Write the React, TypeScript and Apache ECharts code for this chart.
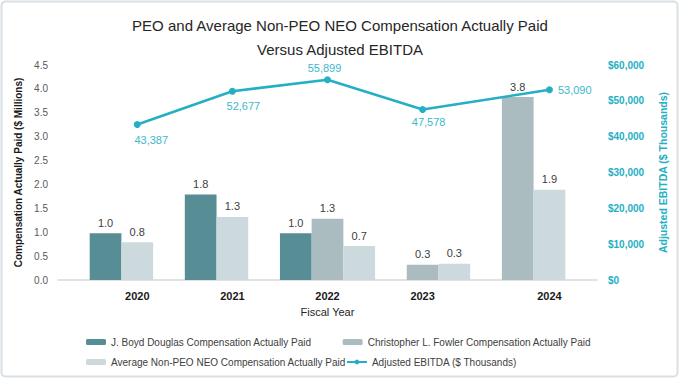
import React, { useEffect, useRef } from "react";
import * as echarts from "echarts";

// ---- data ----
const years = ["2020", "2021", "2022", "2023", "2024"];
const douglasPaid = [0.98, 1.79, 0.98, null, null];
const fowlerPaid = [null, null, 1.28, 0.32, 3.83];
const avgNeoPaid = [0.79, 1.32, 0.71, 0.34, 1.89];
const adjEbitda = [43387, 52677, 55899, 47578, 53090];
const leftTicks = { min: 0, max: 4.5, step: 0.5 };
const rightTicks = { min: 0, max: 60000, step: 10000 };

// ---- layout (slot grid, Excel-like placement) ----
const SLOT_COUNT = 17;
const yearSlot = [2, 5, 8, 11, 15];
const douglasOffset = [-1, -1, -1, 0, 0];
const fowlerOffset = [0, 0, 0, 0, -1];
const avgOffset = [0, 0, 1, 1, 0];
const ebitdaLabelPos: any[] = [
  { position: "bottom", offset: [14, 1] },
  { position: "bottom", offset: [11, 1] },
  { position: "top", offset: [-3, 2] },
  { position: "bottom", offset: [6, -2] },
  { position: "right", offset: [0, 0] },
];

const TEAL = "#25afc4";
const TEAL_TEXT = "#3db8ca";
const FONT = "Liberation Sans, Arial, sans-serif";

function slotData(values: (number | null)[], offsets: number[]) {
  const arr: (number | null)[] = new Array(SLOT_COUNT).fill(null);
  values.forEach((v, i) => {
    if (v !== null && v !== undefined) arr[yearSlot[i] + offsets[i]] = v;
  });
  return arr;
}

export default function App() {
  const ref = useRef<HTMLDivElement>(null);
  useEffect(() => {
    if (!ref.current) return;
    const chart = echarts.init(ref.current, undefined, { renderer: "svg" });

    const categories: string[] = new Array(SLOT_COUNT).fill("");
    years.forEach((y, i) => (categories[yearSlot[i]] = y));

    const lineData: any[] = new Array(SLOT_COUNT).fill(null);
    adjEbitda.forEach((v, i) => {
      lineData[yearSlot[i]] = { value: v, label: ebitdaLabelPos[i] };
    });

    const barLabel = {
      show: true,
      position: "top",
      distance: 5,
      color: "#404040",
      fontSize: 11,
      fontFamily: FONT,
      formatter: (p: any) => (p.value == null ? "" : Number(p.value).toFixed(1)),
    };

    const barCommon = {
      type: "bar",
      barWidth: "100%",
      barGap: "-100%",
      barCategoryGap: "0%",
      label: barLabel,
      yAxisIndex: 0,
    };

    const legendText = { fontSize: 10, color: "#404040", fontFamily: FONT };

    chart.setOption({
      animation: false,
      backgroundColor: "#ffffff",
      textStyle: { fontFamily: FONT },
      graphic: [
        {
          type: "rect",
          shape: { x: 1.5, y: 1.5, width: 676, height: 375, r: 4 },
          style: { fill: "none", stroke: "#d8e0e5", lineWidth: 2 },
          silent: true,
        },
      ],
      title: {
        text: "PEO and Average Non-PEO NEO Compensation Actually Paid\nVersus Adjusted EBITDA",
        left: "center",
        top: 8,
        textStyle: {
          fontSize: 15,
          fontWeight: "normal",
          color: "#262626",
          lineHeight: 24,
          fontFamily: FONT,
        },
      },
      legend: [
        {
          left: 86,
          top: 337,
          padding: 0,
          itemWidth: 20,
          itemHeight: 6,
          itemGap: 31,
          textStyle: legendText,
          data: [
            "J. Boyd Douglas Compensation Actually Paid",
            "Christopher L. Fowler Compensation Actually Paid",
          ],
        },
        {
          left: 86,
          top: 357,
          padding: 0,
          itemWidth: 20,
          itemHeight: 6,
          itemGap: 0,
          textStyle: legendText,
          data: [
            "Average Non-PEO NEO Compensation Actually Paid",
            "Adjusted EBITDA ($ Thousands)",
          ],
        },
      ],
      grid: { left: 58, right: 83, top: 65, bottom: 99 },
      xAxis: {
        type: "category",
        data: categories,
        boundaryGap: true,
        name: "Fiscal Year",
        nameLocation: "middle",
        nameGap: 26,
        nameTextStyle: { fontSize: 11, color: "#262626", fontFamily: FONT },
        axisLine: { lineStyle: { color: "#d9d9d9", width: 1.5 } },
        axisTick: { show: false },
        axisLabel: {
          interval: 0,
          fontSize: 11,
          fontWeight: "bold",
          color: "#1a1a1a",
          margin: 10,
          fontFamily: FONT,
        },
      },
      yAxis: [
        {
          type: "value",
          min: leftTicks.min,
          max: leftTicks.max,
          interval: leftTicks.step,
          name: "Compensation Actually Paid ($ Millions)",
          nameLocation: "middle",
          nameRotate: 90,
          nameGap: 35,
          nameTextStyle: {
            fontSize: 10,
            fontWeight: "bold",
            color: "#1a1a1a",
            fontFamily: FONT,
          },
          axisLine: { show: false },
          axisTick: { show: false },
          splitLine: { show: false },
          axisLabel: {
            fontSize: 10,
            color: "#595959",
            margin: 10,
            fontFamily: FONT,
            formatter: (v: number) => v.toFixed(1),
          },
        },
        {
          type: "value",
          min: rightTicks.min,
          max: rightTicks.max,
          interval: rightTicks.step,
          name: "Adjusted EBITDA ($ Thousands)",
          nameLocation: "middle",
          nameRotate: 90,
          nameGap: 60,
          nameTextStyle: {
            fontSize: 10.5,
            fontWeight: "bold",
            color: TEAL,
            fontFamily: FONT,
          },
          axisLine: { show: false },
          axisTick: { show: false },
          splitLine: { show: false },
          axisLabel: {
            fontSize: 10,
            fontWeight: "bold",
            color: TEAL,
            margin: 11,
            fontFamily: FONT,
            formatter: (v: number) => "$" + v.toLocaleString("en-US"),
          },
        },
      ],
      series: [
        {
          ...barCommon,
          name: "J. Boyd Douglas Compensation Actually Paid",
          data: slotData(douglasPaid, douglasOffset),
          itemStyle: { color: "#578d95" },
        },
        {
          ...barCommon,
          name: "Christopher L. Fowler Compensation Actually Paid",
          data: slotData(fowlerPaid, fowlerOffset),
          itemStyle: { color: "#aabcc0" },
        },
        {
          ...barCommon,
          name: "Average Non-PEO NEO Compensation Actually Paid",
          data: slotData(avgNeoPaid, avgOffset),
          itemStyle: { color: "#cddadd" },
        },
        {
          type: "line",
          name: "Adjusted EBITDA ($ Thousands)",
          yAxisIndex: 1,
          data: lineData,
          connectNulls: true,
          symbol: "circle",
          symbolSize: 7,
          lineStyle: { color: TEAL, width: 2.5 },
          itemStyle: { color: TEAL },
          label: {
            show: true,
            distance: 5,
            color: TEAL_TEXT,
            fontSize: 11,
            fontFamily: FONT,
            formatter: (p: any) => Number(p.value).toLocaleString("en-US"),
          },
          z: 5,
        },
      ],
    });

    return () => chart.dispose();
  }, []);

  return (
    <div
      ref={ref}
      style={{ position: "fixed", left: 0, top: 0, width: 680, height: 379 }}
    />
  );
}
